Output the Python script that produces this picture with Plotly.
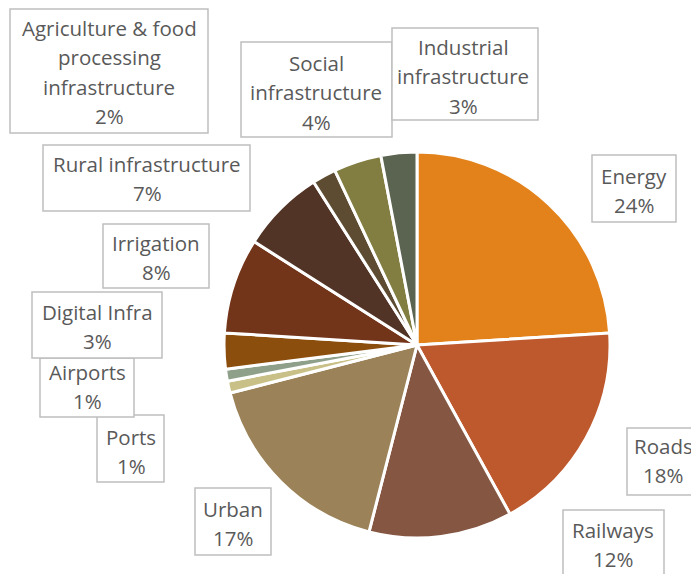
import textwrap
import plotly.graph_objects as go

# Sector shares (%) of the funding pipeline, clockwise from 12 o'clock
sectors = [
    "Energy", "Roads", "Railways", "Urban", "Ports", "Airports",
    "Digital Infra", "Irrigation", "Rural infrastructure",
    "Agriculture & food processing infrastructure",
    "Social infrastructure", "Industrial infrastructure",
]
shares = [24, 18, 12, 17, 1, 1, 3, 8, 7, 2, 4, 3]
colors = [
    "#E3821A", "#BE582D", "#855642", "#9B8258", "#C8C087", "#8FA08A",
    "#8C4E0C", "#733519", "#523426", "#5D4C32", "#827D40", "#5A6450",
]

W, H = 691, 574


def px(x):
    return x / W


def py(y):
    return 1 - y / H


# Callout boxes: pixel edges, text centre x, first-line y, wrap width
callouts = {
    "Energy": (592, 155, 676, 222, 634, 176, 30),
    "Roads": (627, 428, 700, 495, 663, 446, 30),
    "Railways": (563, 510, 664, 590, 613, 530, 30),
    "Urban": (195, 488, 271, 555, 233, 509, 30),
    "Ports": (97, 415, 164, 482, 131, 437, 30),
    "Airports": (40, 358, 134, 417, 87, 372, 30),
    "Digital Infra": (32, 292, 162, 358, 97, 312, 30),
    "Irrigation": (103, 224, 209, 288, 156, 243, 30),
    "Rural infrastructure": (43, 145, 250, 211, 147, 164, 30),
    "Agriculture & food processing infrastructure": (10, 9, 208, 133, 109, 28, 18),
    "Social infrastructure": (241, 42, 392, 137, 316, 63, 14),
    "Industrial infrastructure": (392, 28, 538, 120, 463, 47, 14),
}

fig = go.Figure(
    go.Pie(
        labels=sectors,
        values=shares,
        sort=False,
        direction="clockwise",
        rotation=0,
        marker=dict(colors=colors, line=dict(color="white", width=3)),
        textinfo="none",
        hoverinfo="label+percent",
        domain=dict(x=[px(224), px(610)], y=[py(538), py(152)]),
        showlegend=False,
    )
)

shapes = []
annotations = []
LINE_GAP = 29.3
total = sum(shares)
for name, val in zip(sectors, shares):
    x0, y0, x1, y1, cx, ty, wrap = callouts[name]
    shapes.append(dict(
        type="rect", xref="paper", yref="paper",
        x0=px(x0), x1=px(x1), y0=py(y1), y1=py(y0),
        line=dict(color="#BFBFBF", width=1.5), fillcolor="white", layer="above",
    ))
    lines = textwrap.wrap(name, wrap) + [f"{round(100 * val / total)}%"]
    for i, line in enumerate(lines):
        annotations.append(dict(
            x=px(cx), y=py(ty + i * LINE_GAP), xref="paper", yref="paper",
            text=line, showarrow=False, xanchor="center", yanchor="middle",
            font=dict(family="Open Sans", size=20.5, color="#595959"),
        ))

annotations.append(dict(
    x=px(331), y=py(-12), xref="paper", yref="paper",
    text="<b>NIP Funding Allocation by Sector</b>", showarrow=False,
    xanchor="center", yanchor="middle",
    font=dict(family="Open Sans", size=20, color="#000000"),
))

fig.update_layout(
    width=W, height=H,
    margin=dict(l=0, r=0, t=0, b=0),
    paper_bgcolor="white",
    plot_bgcolor="white",
    shapes=shapes,
    annotations=annotations,
)

fig.write_html("out.html", config={"displayModeBar": False})
